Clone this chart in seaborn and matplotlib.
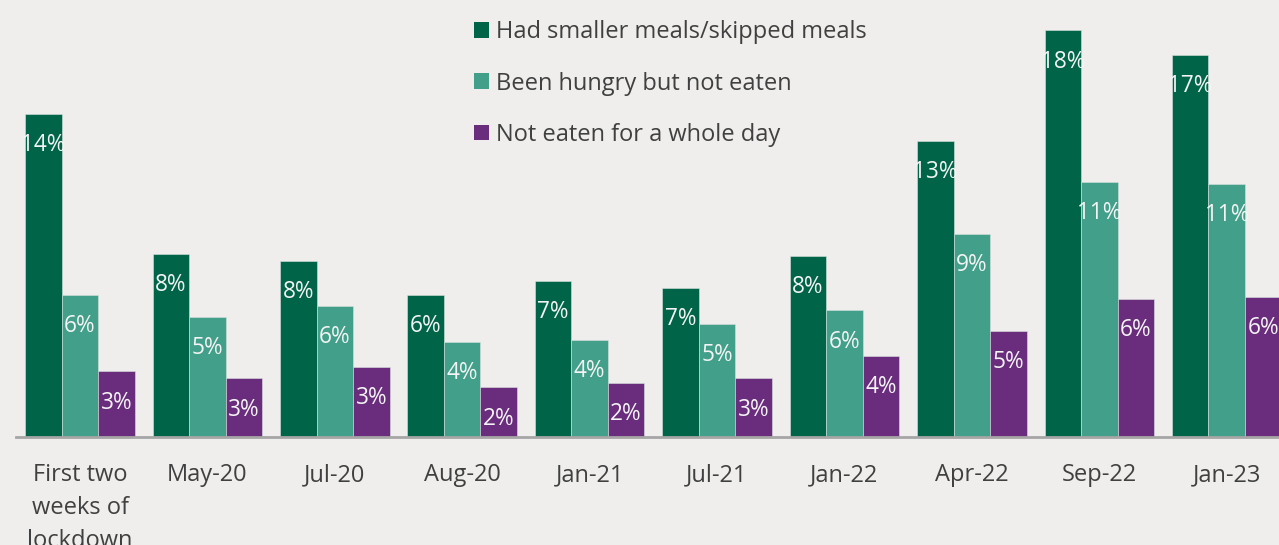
import numpy as np
import pandas as pd
import seaborn as sns
import matplotlib as mpl
from matplotlib import pyplot as plt

# data
periods = ["First two\nweeks of\nlockdown", "May-20", "Jul-20", "Aug-20", "Jan-21",
           "Jul-21", "Jan-22", "Apr-22", "Sep-22", "Jan-23"]
series = ["Had smaller meals/skipped meals", "Been hungry but not eaten",
          "Not eaten for a whole day"]
smaller_meals = [14.3, 8.1, 7.8, 6.3, 6.9, 6.6, 8.0, 13.1, 18.0, 16.9]
hungry_not_eaten = [6.3, 5.3, 5.8, 4.2, 4.3, 5.0, 5.6, 9.0, 11.3, 11.2]
whole_day = [2.9, 2.6, 3.1, 2.2, 2.4, 2.6, 3.6, 4.7, 6.1, 6.2]
colors = ["#006548", "#419F8A", "#6A2D7D"]

df = pd.DataFrame({
    "period": periods * 3,
    "series": np.repeat(series, len(periods)),
    "value": smaller_meals + hungry_not_eaten + whole_day,
})

bg = "#EFEEEC"
text_col = "#404040"

sns.set_theme(style="white")
plt.rcParams["font.family"] = ["Open Sans", "DejaVu Sans"]

fig = plt.figure(figsize=(12.79, 5.45), dpi=100, facecolor=bg)
ax = fig.add_axes([16 / 1279, 108 / 545, 1 - 16 / 1279, 437 / 545])
ax.set_facecolor(bg)

sns.barplot(data=df, x="period", y="value", hue="series", palette=colors,
            width=0.86, gap=0, saturation=1, errorbar=None, ax=ax,
            edgecolor="#D9E2DE", linewidth=0.4)

# value labels inside the top of each bar
for cont in ax.containers:
    for bar in cont:
        h = bar.get_height()
        ax.annotate(f"{h:.0f}%", (bar.get_x() + bar.get_width() / 2, h),
                    xytext=(0, -22.5), textcoords="offset points",
                    ha="center", va="center", color="#F4F4F4", fontsize=16.3)

ax.set_xlim(-0.502, 9.41)
ax.set_ylim(0, 19.34)
ax.set_xlabel("")
ax.set_ylabel("")
ax.set_yticks([])
ax.tick_params(axis="x", length=0, pad=19, labelsize=17, labelcolor=text_col)
for lbl in ax.get_xticklabels():
    lbl.set_linespacing(1.5)
    lbl.set_va("top")

sns.despine(ax=ax, left=True)
ax.spines["bottom"].set_color("#A6A6A6")
ax.spines["bottom"].set_linewidth(2)

handles = [mpl.patches.Patch(facecolor=c, edgecolor="none") for c in colors]
ax.legend(handles, series, loc="upper left",
          bbox_to_anchor=(460 / 1279, 1 - 6 / 545),
          bbox_transform=fig.transFigure, frameon=False, fontsize=17,
          labelcolor=text_col, handlelength=0.64, handleheight=0.64,
          handletextpad=0.3, labelspacing=1.16, borderaxespad=0.2)

fig.savefig("out.png", dpi=100, facecolor=bg)
